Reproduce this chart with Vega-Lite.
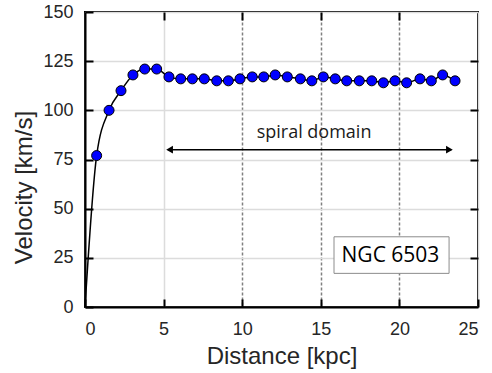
{
  "$schema": "https://vega.github.io/schema/vega-lite/v6.json",
  "width": 393,
  "height": 295,
  "autosize": {"type": "none"},
  "padding": {"left": 85, "top": 12, "right": 14, "bottom": 66},
  "background": "white",
  "config": {
    "view": {"stroke": "black", "strokeWidth": 2},
    "axis": {
      "labelFont": "Liberation Sans",
      "labelFontSize": 18,
      "labelColor": "#262626",
      "titleFont": "Liberation Sans",
      "titleFontSize": 24,
      "titleFontWeight": "normal",
      "titleColor": "#262626",
      "domainColor": "black",
      "domainWidth": 2,
      "tickColor": "black",
      "tickWidth": 2,
      "tickSize": -8
    }
  },
  "datasets": {
    "rc": [
      {"d": 0, "v": 0},
      {"d": 0.74, "v": 77},
      {"d": 1.53, "v": 100},
      {"d": 2.29, "v": 110},
      {"d": 3.05, "v": 118},
      {"d": 3.8, "v": 121},
      {"d": 4.56, "v": 121},
      {"d": 5.34, "v": 117},
      {"d": 6.09, "v": 116},
      {"d": 6.83, "v": 116},
      {"d": 7.59, "v": 116},
      {"d": 8.38, "v": 115},
      {"d": 9.12, "v": 115},
      {"d": 9.86, "v": 116},
      {"d": 10.64, "v": 117},
      {"d": 11.37, "v": 117},
      {"d": 12.1, "v": 118},
      {"d": 12.87, "v": 117},
      {"d": 13.7, "v": 116},
      {"d": 14.43, "v": 115},
      {"d": 15.16, "v": 117},
      {"d": 15.92, "v": 116},
      {"d": 16.65, "v": 115},
      {"d": 17.45, "v": 115},
      {"d": 18.24, "v": 115},
      {"d": 18.98, "v": 114},
      {"d": 19.72, "v": 115},
      {"d": 20.46, "v": 114},
      {"d": 21.31, "v": 116},
      {"d": 22.03, "v": 115},
      {"d": 22.75, "v": 118},
      {"d": 23.54, "v": 115}
    ]
  },
  "resolve": {"axis": {"x": "independent", "y": "independent"}},
  "layer": [
    {
      "layer": [
        {
          "data": {"name": "rc"},
          "mark": {"type": "line", "interpolate": "monotone", "color": "black", "strokeWidth": 1.5},
          "encoding": {
            "x": {
              "field": "d", "type": "quantitative",
              "scale": {"domain": [0, 25], "nice": false},
              "axis": {
                "values": [0, 5, 10, 15, 20, 25],
                "title": "Distance [kpc]",
                "labelPadding": 21,
                "titleX": 196.5, "titleY": 56,
                "titleAlign": "center", "titleBaseline": "alphabetic",
                "grid": true,
                "gridWidth": 1.5,
                "gridColor": {"condition": {"test": "datum.value >= 10 && datum.value <= 20", "value": "#808080"}, "value": "#dcdcdc"},
                "gridDash": {"condition": {"test": "datum.value >= 10 && datum.value <= 20", "value": [3, 2]}, "value": []}
              }
            },
            "y": {
              "field": "v", "type": "quantitative",
              "scale": {"domain": [0, 150], "nice": false},
              "axis": {
                "values": [0, 25, 50, 75, 100, 125, 150],
                "title": "Velocity [km/s]",
                "labelPadding": 20,
                "titleX": -53.5, "titleY": 175, "titleAngle": 270,
                "titleAlign": "center", "titleBaseline": "alphabetic",
                "grid": true, "gridWidth": 1.5, "gridColor": "#dcdcdc"
              }
            }
          }
        },
        {
          "data": {"name": "rc"},
          "transform": [{"filter": "datum.d > 0"}],
          "mark": {"type": "point", "shape": "circle", "filled": true, "size": 100, "fill": "#0000ff", "stroke": "black", "strokeWidth": 1, "opacity": 1},
          "encoding": {
            "x": {"field": "d", "type": "quantitative"},
            "y": {"field": "v", "type": "quantitative"}
          }
        },
        {
          "data": {"values": [{}]},
          "mark": {"type": "rule", "color": "black", "strokeWidth": 1.5},
          "encoding": {
            "x": {"datum": 5.3, "type": "quantitative"},
            "x2": {"datum": 23.3},
            "y": {"datum": 80, "type": "quantitative"}
          }
        },
        {
          "data": {"values": [{}]},
          "mark": {"type": "point", "shape": "triangle-left", "filled": true, "size": 60, "color": "black", "opacity": 1},
          "encoding": {
            "x": {"datum": 5.38, "type": "quantitative"},
            "y": {"datum": 80, "type": "quantitative"}
          }
        },
        {
          "data": {"values": [{}]},
          "mark": {"type": "point", "shape": "triangle-right", "filled": true, "size": 60, "color": "black", "opacity": 1},
          "encoding": {
            "x": {"datum": 23.18, "type": "quantitative"},
            "y": {"datum": 80, "type": "quantitative"}
          }
        },
        {
          "data": {"values": [{}]},
          "mark": {"type": "text", "text": "spiral domain", "font": "Open Sans", "fontSize": 18, "baseline": "alphabetic", "align": "center", "color": "#1a1a1a"},
          "encoding": {
            "x": {"datum": 14.57, "type": "quantitative"},
            "y": {"datum": 86, "type": "quantitative"}
          }
        },
        {
          "data": {"values": [{}]},
          "mark": {"type": "rect", "fill": "white", "stroke": "#8c8c8c", "strokeWidth": 1},
          "encoding": {
            "x": {"datum": 15.84, "type": "quantitative"},
            "x2": {"datum": 23.16},
            "y": {"datum": 17.1, "type": "quantitative"},
            "y2": {"datum": 35.7}
          }
        },
        {
          "data": {"values": [{}]},
          "mark": {"type": "text", "text": "NGC 6503", "font": "Open Sans", "fontSize": 21, "baseline": "alphabetic", "align": "center", "color": "black"},
          "encoding": {
            "x": {"datum": 19.43, "type": "quantitative"},
            "y": {"datum": 23, "type": "quantitative"}
          }
        }
      ]
    },
    {
      "data": {"values": [{}]},
      "mark": {"type": "point", "opacity": 0},
      "encoding": {
        "x": {
          "datum": 0, "type": "quantitative",
          "scale": {"domain": [0, 25], "nice": false},
          "axis": {"orient": "top", "values": [5, 10, 15, 20], "labels": false, "title": null, "grid": false, "domain": false, "tickSize": -8}
        },
        "y": {
          "datum": 0, "type": "quantitative",
          "scale": {"domain": [0, 150], "nice": false},
          "axis": {"orient": "right", "values": [25, 50, 75, 100, 125], "labels": false, "title": null, "grid": false, "domain": false, "tickSize": -8}
        }
      }
    }
  ]
}
